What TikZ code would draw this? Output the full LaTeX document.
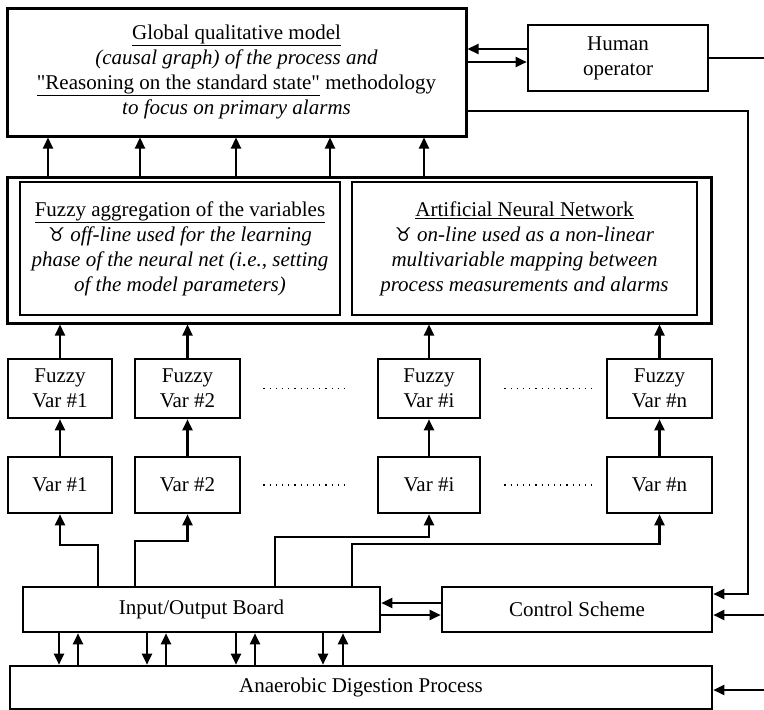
\documentclass[tikz,border=0pt]{standalone}
\usepackage{fontspec}
\setmainfont{Liberation Serif}[Ligatures=TeXOff]
\newfontfamily\symfont{DejaVu Sans}
\usetikzlibrary{arrows.meta}
\tikzset{
  box/.style={draw, line width=2.6pt, inner sep=0pt, align=center, font=\fontsize{21}{25}\selectfont},
  arr/.style={line width=2.2pt, -{Triangle[length=11pt,width=10pt]}},
  conn/.style={line width=2.2pt},
  dots/.style={line width=1.2pt, dash pattern=on 1.2pt off 5pt},
}
\newcommand{\bull}{{\symfont\fontsize{19}{25}\selectfont ♉}}
\begin{document}
\begin{tikzpicture}[x=1pt,y=-1pt]
\useasboundingbox (0,0) rectangle (764,710);

% top
\node[box, line width=3pt, minimum width=459pt, minimum height=128pt] (global) at (236.5,72)
  {\underline{Global qualitative model}\\
   \textit{(causal graph) of the process and}\\
   \underline{"Reasoning on the standard state"} methodology\\
   \textit{to focus on primary alarms}};
\node[box, minimum width=180pt, minimum height=66pt] (human) at (618,58) {Human\\operator};

% middle
\node[box, line width=3pt, minimum width=704pt, minimum height=146pt] (mid) at (359,250) {};
\node[box, minimum width=320pt, minimum height=133pt] (fagg) at (180,248.5)
  {\underline{Fuzzy aggregation of the variables}\\
   \bull\ \textit{off-line used for the learning}\\
   \textit{phase of the neural net (i.e., setting}\\
   \textit{of the model parameters)}};
\node[box, minimum width=345pt, minimum height=133pt] (ann) at (524.5,248.5)
  {\underline{Artificial Neural Network}\\
   \bull\ \textit{on-line used as a non-linear}\\
   \textit{multivariable mapping between}\\
   \textit{process measurements and alarms}};

% fuzzy vars
\node[box, minimum width=104pt, minimum height=59pt] (f1) at (60,388.5) {Fuzzy\\Var \#1};
\node[box, minimum width=105pt, minimum height=59pt] (f2) at (187.5,388.5) {Fuzzy\\Var \#2};
\node[box, minimum width=102pt, minimum height=59pt] (fi) at (429,388.5) {Fuzzy\\Var \#i};
\node[box, minimum width=105pt, minimum height=59pt] (fn) at (659.5,388.5) {Fuzzy\\Var \#n};

% vars
\node[box, minimum width=104pt, minimum height=56pt] (v1) at (60,485) {Var \#1};
\node[box, minimum width=105pt, minimum height=56pt] (v2) at (187.5,485) {Var \#2};
\node[box, minimum width=102pt, minimum height=56pt] (vi) at (429,485) {Var \#i};
\node[box, minimum width=105pt, minimum height=56pt] (vn) at (659.5,485) {Var \#n};

% bottom
\node[box, minimum width=357pt, minimum height=45pt] (io) at (201.5,609.5) {Input/Output Board};
\node[box, minimum width=270pt, minimum height=45pt] (cs) at (577,609.5) {Control Scheme};
\node[box, minimum width=702pt, minimum height=43pt] (proc) at (361,687.5) {Anaerobic Digestion Process};

% mid -> global
\foreach \x in {48,140,236,330,424}
  \draw[arr] (mid.north -| \x,0) -- (global.south -| \x,0);

% fuzzy -> mid, var -> fuzzy
\foreach \n in {1,2,i,n} {
  \draw[arr] (f\n.north) -- (f\n.north |- mid.south);
  \draw[arr] (v\n.north) -- (f\n.south);
}

% dotted
\draw[dots] ([xshift=22pt]f2.east) -- ([xshift=-28pt]fi.west);
\draw[dots] ([xshift=23pt]fi.east) -- ([xshift=-14pt]fn.west);
\draw[dots] ([xshift=22pt]v2.east) -- ([xshift=-28pt]vi.west);
\draw[dots] ([xshift=23pt]vi.east) -- ([xshift=-14pt]vn.west);

% io -> vars
\draw[arr] (io.north -| 98,0) -- (98,545) -| (v1.south);
\draw[arr] (io.north -| 135,0) -- (135,541) -| (v2.south);
\draw[arr] (io.north -| 275,0) -- (275,537) -| (vi.south);
\draw[arr] (io.north -| 352,0) -- (352,544) -| (vn.south);

% io <-> process
\foreach \x in {59,147,236,323}
  \draw[arr] (io.south -| \x,0) -- (proc.north -| \x,0);
\foreach \x in {78,166,255,343}
  \draw[arr] (proc.north -| \x,0) -- (io.south -| \x,0);

% io <-> control scheme
\draw[arr] (cs.west |- 0,603) -- (io.east |- 0,603);
\draw[arr] (io.east |- 0,615) -- (cs.west |- 0,615);

% global <-> human
\draw[arr] (human.west |- 0,49) -- (global.east |- 0,49);
\draw[arr] (global.east |- 0,62) -- (human.west |- 0,62);

% right side
\coordinate (hout) at (764,58);
\draw[conn] (human.east |- hout) -- (hout);
\coordinate (fbk) at (748,111);
\draw[arr] (global.east |- fbk) -- (fbk) |- (cs.east |- 0,594);
\coordinate (csin) at (764,615);
\draw[arr] (csin) -- (cs.east |- csin);
\coordinate (procin) at (764,690);
\draw[arr] (procin) -- (proc.east |- procin);
\end{tikzpicture}
\end{document}
